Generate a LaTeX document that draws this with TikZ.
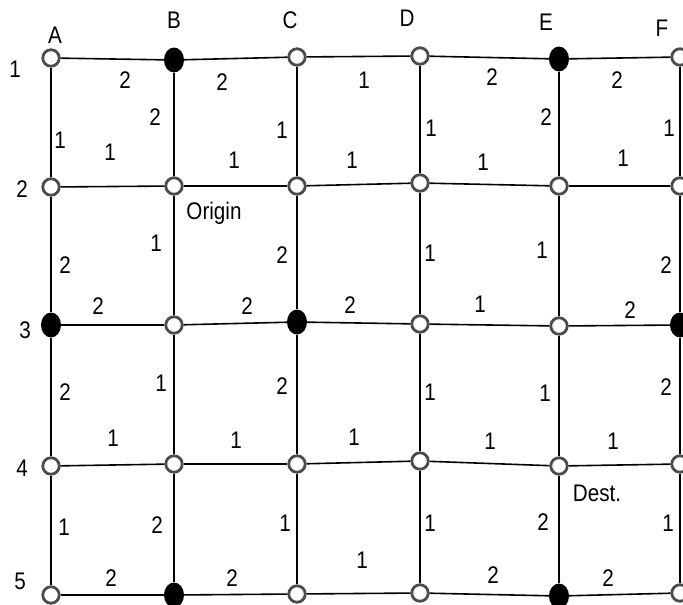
\documentclass[tikz,border=0pt]{standalone}
\usepackage{fontspec}
\setmainfont{Liberation Sans}[FakeStretch=0.86]
\usetikzlibrary{shapes.geometric}
\tikzset{
  onode/.style={circle, draw=black!70, fill=white, line width=2.8pt,
    minimum size=16.5pt, inner sep=0pt},
  fnode/.style={ellipse, fill=black, minimum width=20pt, minimum height=25pt,
    inner sep=0pt},
  link/.style={line width=1.6pt, black},
  wt/.style={font=\fontsize{24}{24}\selectfont, inner sep=0pt},
  tag/.style={font=\fontsize{24}{24}\selectfont, inner sep=0pt}
}

\begin{document}
\begin{tikzpicture}[x=1pt, y=1pt]
    \useasboundingbox (0,0) rectangle (683,-605);
    % grid nodes
    \node[onode] (A1) at (51,-58) {};
    \node[fnode] (B1) at (174,-60) {};
    \node[onode] (C1) at (297,-57) {};
    \node[onode] (D1) at (420,-56) {};
    \node[fnode] (E1) at (559,-59) {};
    \node[onode] (F1) at (680,-57) {};
    \node[onode] (A2) at (51,-187) {};
    \node[onode] (B2) at (174,-186) {};
    \node[onode] (C2) at (297,-186) {};
    \node[onode] (D2) at (420,-183) {};
    \node[onode] (E2) at (559,-186) {};
    \node[onode] (F2) at (680,-186) {};
    \node[fnode] (A3) at (51,-325) {};
    \node[onode] (B3) at (174,-325) {};
    \node[fnode] (C3) at (297,-322) {};
    \node[onode] (D3) at (420,-324) {};
    \node[onode] (E3) at (559,-326) {};
    \node[fnode] (F3) at (680,-325) {};
    \node[onode] (A4) at (51,-466) {};
    \node[onode] (B4) at (174,-464) {};
    \node[onode] (C4) at (297,-464) {};
    \node[onode] (D4) at (420,-461) {};
    \node[onode] (E4) at (559,-466) {};
    \node[onode] (F4) at (680,-464) {};
    \node[onode] (A5) at (51,-595) {};
    \node[fnode] (B5) at (174,-595) {};
    \node[onode] (C5) at (297,-594) {};
    \node[onode] (D5) at (420,-593) {};
    \node[fnode] (E5) at (559,-596) {};
    \node[onode] (F5) at (680,-593) {};
    % links
    \foreach \r in {1,...,5}
      \foreach \a/\b in {A/B,B/C,C/D,D/E,E/F}
        \draw[link] (\a\r) -- (\b\r);
    \foreach \c in {A,B,C,D,E,F}
      \foreach \r/\s in {1/2,2/3,3/4,4/5}
        \draw[link] (\c\r) -- (\c\s);
    % column and row tags
    \foreach \c/\x/\y in {A/55/-35,B/174/-20,C/290/-20,D/407/-18,E/546/-22,F/662/-28}
      \node[tag] (col\c) at (\x,\y) {\c};
    \foreach \r/\x/\y in {1/15/-69,2/22/-189,3/25/-330,4/22/-468,5/20/-581}
      \node[tag] (row\r) at (\x,\y) {\r};
    \node[tag] (origin) at (214,-213) {Origin};
    \node[tag] (dest) at (597,-493) {Dest.};
    % weights
    \foreach \x/\y/\w [count=\i] in {
      125/80/2, 222/82/2, 364/80/1, 492/77/2, 617/80/2,
      60/140/1, 155/117/2, 282/130/1, 431/128/1, 546/117/2, 669/128/1,
      110/152/1, 234/160/1, 352/160/1, 483/162/1, 623/158/1,
      65/265/2, 156/243/1, 282/255/2, 430/253/1, 542/250/1, 666/265/2,
      98/306/2, 247/306/2, 350/305/2, 480/304/1, 630/310/2,
      65/392/2, 161/383/1, 282/386/2, 430/392/1, 545/393/1, 666/387/2,
      113/438/1, 236/440/1, 354/437/1, 490/441/1, 613/441/1,
      64/527/1, 157/525/2, 285/523/1, 430/523/1, 543/522/2, 668/523/1,
      111/578/2, 232/578/2, 362/560/1, 493/575/2, 608/578/2}
      \node[wt] (w\i) at (\x,-\y) {\w};
  \end{tikzpicture}
\end{document}
